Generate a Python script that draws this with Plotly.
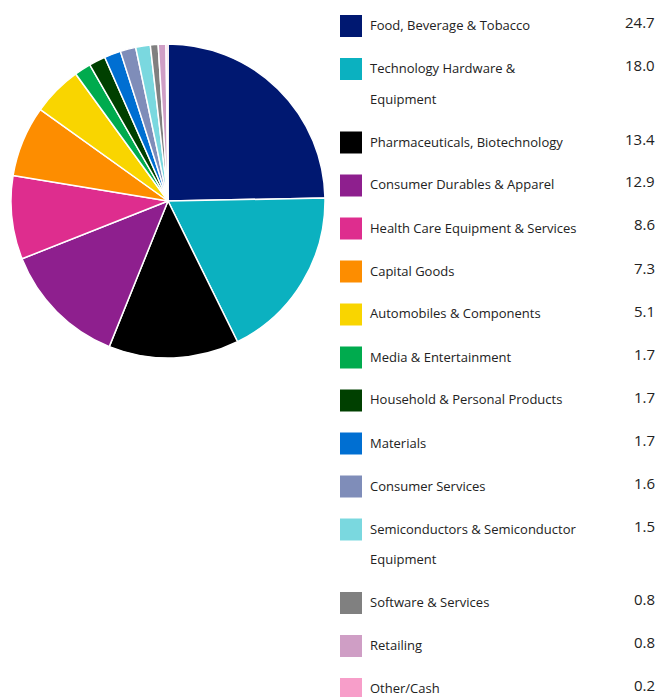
import plotly.graph_objects as go

# ---- data ----
sectors = [
    "Food, Beverage & Tobacco",
    "Technology Hardware &\nEquipment",
    "Pharmaceuticals, Biotechnology",
    "Consumer Durables & Apparel",
    "Health Care Equipment & Services",
    "Capital Goods",
    "Automobiles & Components",
    "Media & Entertainment",
    "Household & Personal Products",
    "Materials",
    "Consumer Services",
    "Semiconductors & Semiconductor\nEquipment",
    "Software & Services",
    "Retailing",
    "Other/Cash",
]
weights = [24.7, 18.0, 13.4, 12.9, 8.6, 7.3, 5.1, 1.7, 1.7, 1.7, 1.6, 1.5, 0.8, 0.8, 0.2]
colors = [
    "#001871", "#0BB1C0", "#000000", "#8E1F8E", "#DE2D8E", "#FD8D00", "#F9D500",
    "#00AB4E", "#004000", "#006FD2", "#7F8DB9", "#7AD8DF", "#808080", "#CF9EC5", "#F79EC9",
]

W, H = 656, 697
FONT = "Open Sans"

fig = go.Figure()
fig.add_trace(go.Pie(
    labels=[s.replace("\n", " ") for s in sectors],
    values=weights,
    marker=dict(colors=colors, line=dict(color="white", width=1.5)),
    sort=False,
    direction="clockwise",
    rotation=0,
    textinfo="none",
    hoverinfo="label+value",
    showlegend=False,
    domain=dict(x=[11 / W, 325 / W], y=[1 - 358 / H, 1 - 44 / H]),
))

# ---- custom legend ----
shapes = []
annotations = []
y = 25.0
for name, val, col in zip(sectors, weights, colors):
    lines = name.split("\n")
    shapes.append(dict(
        type="rect", xref="paper", yref="paper",
        x0=340 / W, x1=362 / W,
        y0=1 - (y + 12) / H, y1=1 - (y - 10) / H,
        fillcolor=col, line=dict(width=0),
    ))
    for i, ln in enumerate(lines):
        annotations.append(dict(
            x=368 / W, y=1 - (y + i * 30.5) / H, xref="paper", yref="paper",
            text=ln, showarrow=False, xanchor="left", yanchor="middle",
            font=dict(family=FONT, size=13, color="#222222"),
        ))
    annotations.append(dict(
        x=657 / W, y=1 - (y - 3) / H, xref="paper", yref="paper",
        text=f"{val:.1f}", showarrow=False, xanchor="right", yanchor="middle",
        font=dict(family=FONT, size=15, color="#222222"),
    ))
    y += 43 + 30.5 * (len(lines) - 1)

fig.update_layout(
    width=W, height=H,
    margin=dict(l=0, r=0, t=0, b=0),
    paper_bgcolor="white", plot_bgcolor="white",
    shapes=shapes, annotations=annotations,
    font=dict(family=FONT),
)

fig.write_html(
    "out.html",
    config={"displayModeBar": False},
    post_script="document.body.style.margin='0';document.body.style.overflow='hidden';",
)
